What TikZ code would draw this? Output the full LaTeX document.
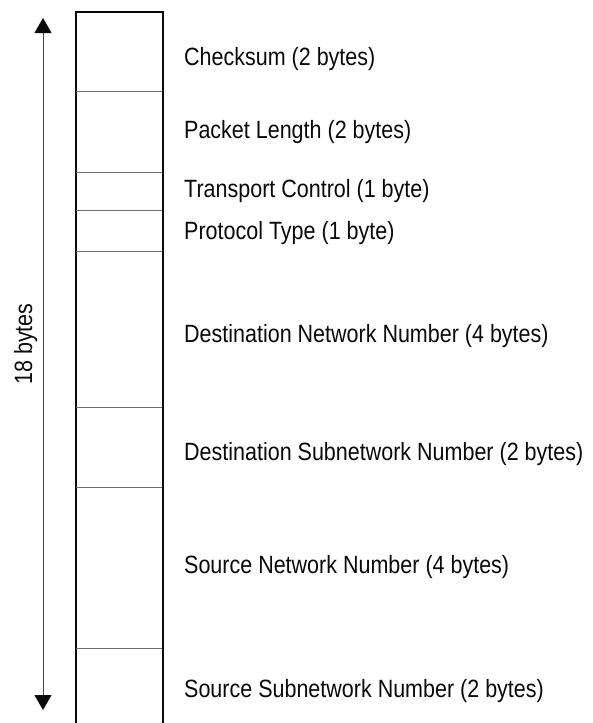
\documentclass[tikz,border=0pt]{standalone}
\usepackage{fontspec}
\usepackage{tikz}
\usetikzlibrary{arrows.meta}
\newfontfamily\lblfont[FakeStretch=0.86]{Liberation Sans}
\definecolor{ink}{HTML}{0A0A0A}
\definecolor{rule}{HTML}{6E6E6E}
\definecolor{dim}{HTML}{4A4A4A}
\tikzset{
  colside/.style={draw=ink, line width=1.3pt},
  divider/.style={draw=rule, line width=0.9pt},
  fieldlbl/.style={anchor=base west, inner sep=0pt, text=ink,
                   font=\lblfont\fontsize{25}{28}\selectfont},
  sizearr/.style={{Triangle[length=15pt, width=17pt, color=ink]}-{Triangle[length=15pt, width=17pt, color=ink]},
                  draw=dim, line width=0.9pt},
}
\begin{document}
\begin{tikzpicture}[x=1pt, y=-1pt]
  \useasboundingbox (0,0) rectangle (592,723);
  % the header column, open at the bottom
  \draw[colside] (76,723) -- (76,12) -- (163,12) -- (163,723);
  \draw[divider] (76,91) -- (162,91);
  \draw[divider] (76,172) -- (162,172);
  \draw[divider] (76,210) -- (162,210);
  \draw[divider] (76,251) -- (162,251);
  \draw[divider] (76,407) -- (162,407);
  \draw[divider] (76,487) -- (162,487);
  \draw[divider] (76,648) -- (162,648);
  % field names
  \node[fieldlbl] (chk) at (184,65) {Checksum (2 bytes)};
  \node[fieldlbl] (len) at (184,138) {Packet Length (2 bytes)};
  \node[fieldlbl] (tc) at (184,197) {Transport Control (1 byte)};
  \node[fieldlbl] (pt) at (184,239) {Protocol Type (1 byte)};
  \node[fieldlbl] (dnet) at (184,342) {Destination Network Number (4 bytes)};
  \node[fieldlbl] (dsub) at (184,460) {Destination Subnetwork Number (2 bytes)};
  \node[fieldlbl] (snet) at (184,573) {Source Network Number (4 bytes)};
  \node[fieldlbl] (ssub) at (184,697) {Source Subnetwork Number (2 bytes)};
  % overall size
  \coordinate (top) at (43,18);
  \coordinate (bot) at (43,710);
  \draw[sizearr] (bot) -- (top);
  \node[fieldlbl, anchor=base, rotate=90] (total) at (32,344) {18 bytes};
\end{tikzpicture}
\end{document}
